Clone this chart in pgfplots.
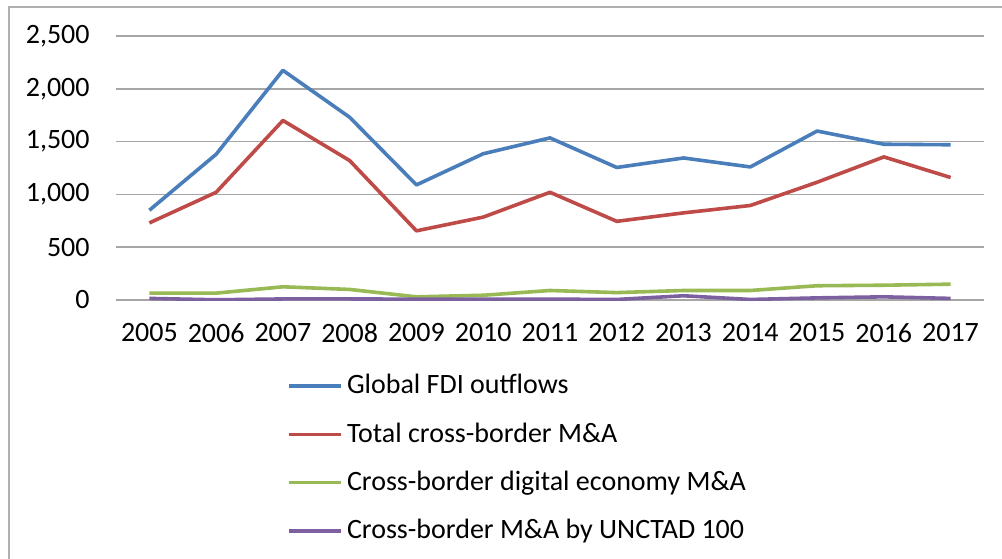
\documentclass[border=0pt]{standalone}
\usepackage{pgfplots}
\pgfplotsset{compat=1.18}
\usepackage{fontspec}
\setmainfont{Carlito}
\definecolor{cBlue}{HTML}{4A7EBB}
\definecolor{cRed}{HTML}{BE4B48}
\definecolor{cGreen}{HTML}{98B954}
\definecolor{cPurple}{HTML}{7D60A0}
\definecolor{gridgray}{HTML}{A6A6A6}
\definecolor{framegray}{HTML}{B0B0B0}
\begin{document}
\fontsize{14}{16}\selectfont
\begin{tikzpicture}
\useasboundingbox (0,0) rectangle (501pt,279pt);
\draw[framegray, line width=1pt] (4.25pt,-2pt) -- (4.25pt,275.5pt) -- (503pt,275.5pt);
\begin{axis}[
  at={(58pt,129pt)}, anchor=south west,
  scale only axis,
  width=434pt, height=132pt,
  xmin=2004.5, xmax=2017.5,
  ymin=0, ymax=2500,
  xtick={2005,...,2017},
  xticklabels={2005,2006,2007,2008,2009,2010,2011,2012,2013,2014,2015,2016,2017},
  ytick={0,500,1000,1500,2000,2500},
  /pgf/number format/.cd, 1000 sep={,}, assume math mode=true,
  /pgfplots/.cd,
  axis line style={draw=none},
  tick style={draw=none},
  ymajorgrids=true,
  grid style={gridgray, line width=0.8pt},
  yticklabel style={anchor=east, inner sep=0pt, xshift=-13pt},
  xticklabel style={anchor=north, inner sep=0pt, yshift=-11.5pt},
  ticklabel style={font=\fontsize{14}{16}\selectfont},
  legend style={draw=none, fill=none, at={(0.197,-0.265)}, anchor=north west,
    font=\fontsize{14}{16}\selectfont, row sep=8.3pt,
    cells={anchor=west}, inner sep=0pt},
  legend image code/.code={\draw[#1] (0pt,0pt) -- (26pt,0pt);},
  every axis plot/.append style={line width=1.8pt, line join=round},
]
\addplot[cBlue] coordinates {(2005,850) (2006,1380) (2007,2175) (2008,1730) (2009,1090) (2010,1385) (2011,1535) (2012,1255) (2013,1345) (2014,1260) (2015,1600) (2016,1475) (2017,1470)};
\addlegendentry{Global FDI outflows}
\addplot[cRed] coordinates {(2005,730) (2006,1020) (2007,1700) (2008,1320) (2009,655) (2010,785) (2011,1020) (2012,745) (2013,825) (2014,895) (2015,1115) (2016,1355) (2017,1160)};
\addlegendentry{Total cross-border M\&A}
\addplot[cGreen] coordinates {(2005,65) (2006,65) (2007,125) (2008,100) (2009,30) (2010,45) (2011,90) (2012,70) (2013,90) (2014,90) (2015,135) (2016,140) (2017,150)};
\addlegendentry{Cross-border digital economy M\&A}
\addplot[cPurple] coordinates {(2005,15) (2006,2) (2007,10) (2008,10) (2009,8) (2010,8) (2011,8) (2012,5) (2013,40) (2014,5) (2015,20) (2016,30) (2017,15)};
\addlegendentry{Cross-border M\&A by UNCTAD 100}
\end{axis}
\end{tikzpicture}
\end{document}
